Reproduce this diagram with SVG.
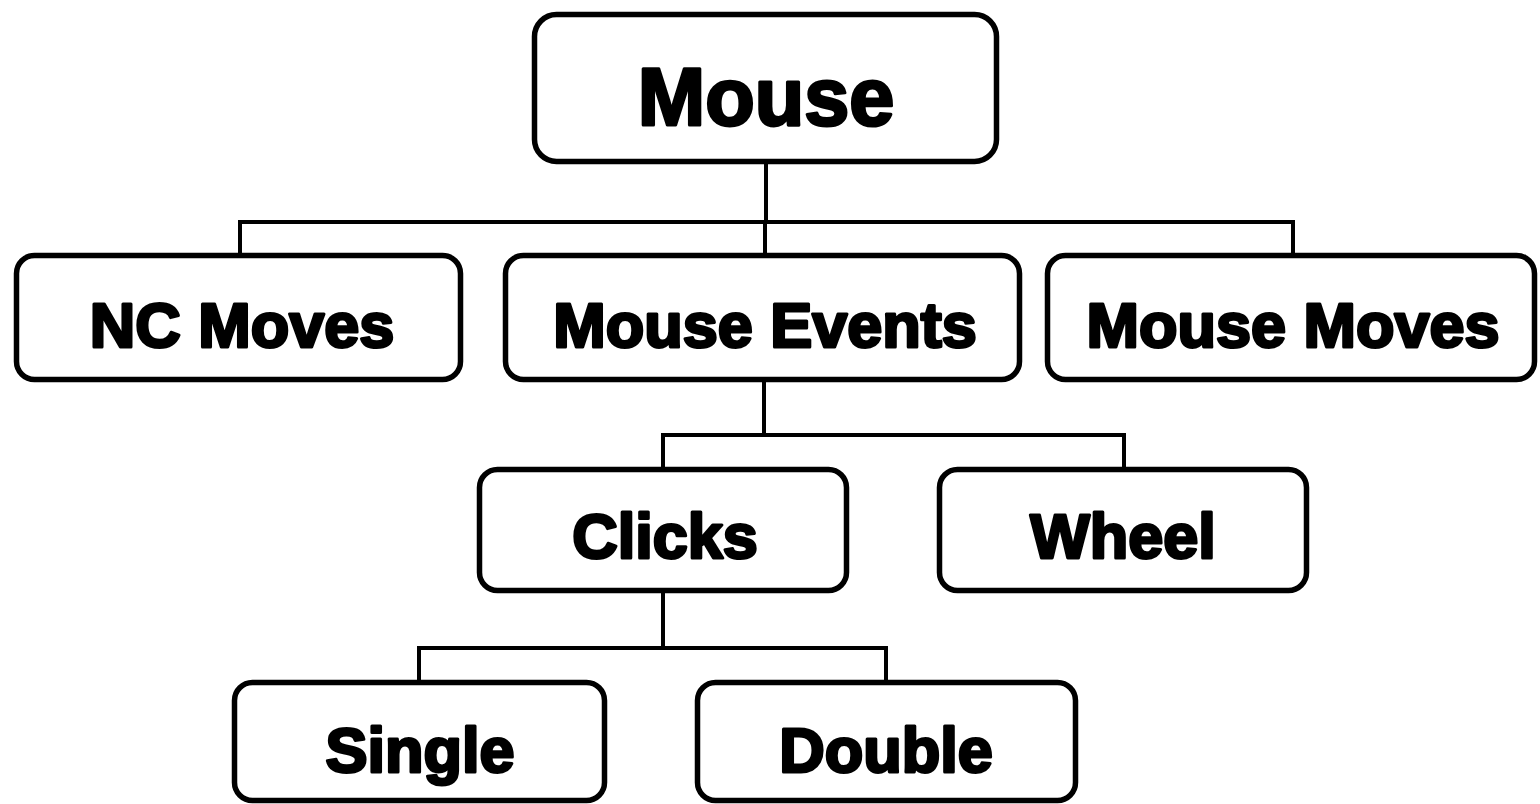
<svg xmlns="http://www.w3.org/2000/svg" width="1540" height="804" viewBox="0 0 1540 804">
<style>
.box{fill:#fff;stroke:#000;stroke-width:5.5}
.lbl{font-family:"Liberation Sans",Arial,sans-serif;font-weight:bold;fill:#000;stroke:#000;stroke-width:3;stroke-linejoin:round;text-anchor:middle;font-size:63px}
.conn{fill:none;stroke:#000;stroke-width:4}
</style>
<rect width="1540" height="804" fill="#fff"/>
<g id="connectors">
<path class="conn" d="M766 162V222M240 256V222H1293V256M765 222V256"/>
<path class="conn" d="M764 380V435M663 470V435H1124V470"/>
<path class="conn" d="M663 591V648M419 683V648H886V683"/>
</g>
<g id="mouse"><rect class="box" x="534.5" y="14.5" width="462" height="147" rx="22"/><text class="lbl" x="766" y="125" style="font-size:81px">Mouse</text></g>
<g id="nc-moves"><rect class="box" x="16.5" y="255.5" width="444" height="124" rx="18"/><text class="lbl" x="242" y="347">NC Moves</text></g>
<g id="mouse-events"><rect class="box" x="505.5" y="255.5" width="514" height="124" rx="18"/><text class="lbl" x="765" y="347">Mouse Events</text></g>
<g id="mouse-moves"><rect class="box" x="1047.5" y="255.5" width="487" height="124" rx="18"/><text class="lbl" x="1293" y="347">Mouse Moves</text></g>
<g id="clicks"><rect class="box" x="479.5" y="469.5" width="367" height="121" rx="18"/><text class="lbl" x="665" y="558">Clicks</text></g>
<g id="wheel"><rect class="box" x="939.5" y="469.5" width="367" height="121" rx="18"/><text class="lbl" x="1123" y="558">Wheel</text></g>
<g id="single"><rect class="box" x="234.5" y="682.5" width="370" height="118" rx="18"/><text class="lbl" x="420" y="772">Single</text></g>
<g id="double"><rect class="box" x="697.5" y="682.5" width="378" height="118" rx="18"/><text class="lbl" x="886" y="772">Double</text></g>
</svg>
